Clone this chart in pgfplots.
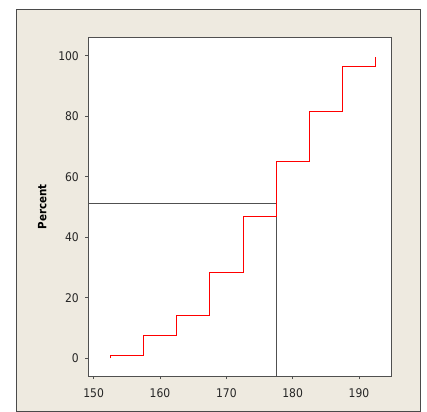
\documentclass[border=0pt]{standalone}
\usepackage{pgfplots}
\pgfplotsset{compat=1.18}
\usepackage{fontspec}
\setmainfont{DejaVu Sans Condensed}
\definecolor{panel}{HTML}{EEEAE0}
\definecolor{frame}{HTML}{4A4A4A}
\definecolor{ax}{HTML}{505050}
\begin{document}
\begin{tikzpicture}[x=1bp,y=1bp]
\fill[white] (0,0) rectangle (427,412);
\useasboundingbox (0,0) rectangle (427,412);
\filldraw[fill=panel, draw=frame, line width=1bp] (16.7,0.6) rectangle (420.3,402.7);
\begin{axis}[
  at={(88.3bp,36bp)}, anchor=south west,
  scale only axis, width=303.4bp, height=338.3bp,
  xmin=149.19, xmax=194.93, ymin=-5.84, ymax=105.95,
  xtick={150,160,...,190}, ytick={0,20,...,100},
  xtick pos=bottom, ytick pos=left, tick align=outside,
  major tick length=3bp,
  axis line style={ax, line width=0.9bp},
  every tick/.style={ax, line width=0.7bp},
  axis background/.style={fill=white},
  tick label style={font=\fontsize{12}{13}\selectfont, text=black!85},
  /pgf/number format/assume math mode=true,
  xticklabel style={yshift=-6bp},
  yticklabel style={xshift=-3bp},
  ylabel={Percent},
  ylabel style={at={(axis description cs:-0.152,0.5)}, anchor=center, font=\fontsize{11.5}{12}\selectfont\bfseries},
]
\addplot[ax, line width=0.9bp] coordinates {(149.19,51.1) (177.5,51.1) (177.5,-5.84)};
\addplot[red, line width=0.8bp] coordinates {
(152.5,0) (152.5,0.9) (157.5,0.9) (157.5,7.5) (162.5,7.5) (162.5,14.3)
(167.5,14.3) (167.5,28.4) (172.5,28.4) (172.5,46.8) (177.5,46.8) (177.5,65.2)
(182.5,65.2) (182.5,81.6) (187.5,81.6) (187.5,96.5) (192.5,96.5) (192.5,99.7)};
\end{axis}
\end{tikzpicture}
\end{document}
